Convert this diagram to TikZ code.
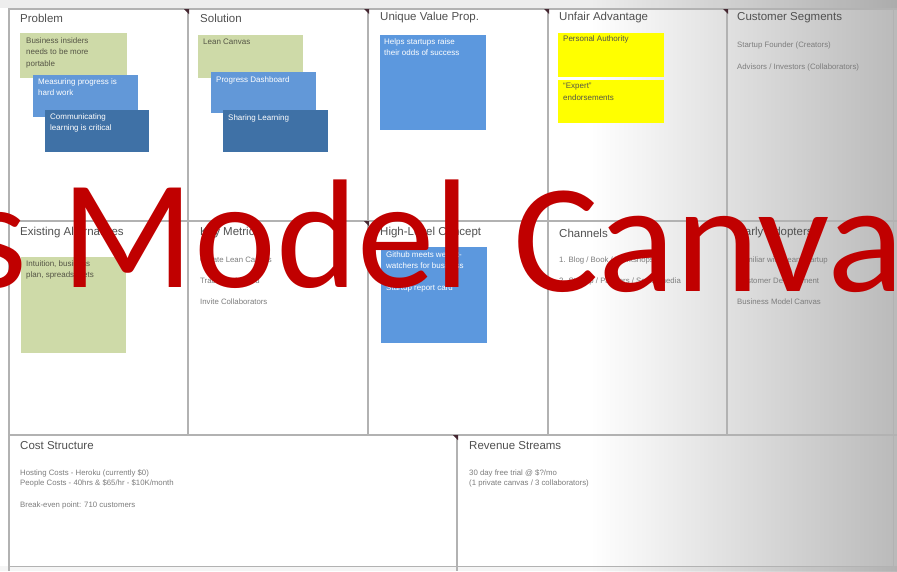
\documentclass[tikz,border=0pt]{standalone}
\usepackage{fontspec}
\setmainfont{Liberation Sans}
\newfontfamily\titlefont{Carlito}
\definecolor{gridc}{RGB}{178,178,178}
\definecolor{hdrc}{RGB}{80,80,80}
\definecolor{bodyc}{RGB}{125,125,125}
\definecolor{noteG}{RGB}{206,218,168}
\definecolor{noteB}{RGB}{98,152,216}
\definecolor{noteD}{RGB}{63,113,166}
\definecolor{noteU}{RGB}{92,152,222}
\definecolor{noteY}{RGB}{255,255,0}
\definecolor{titlered}{RGB}{192,0,0}
\definecolor{shadeR}{RGB}{186,186,186}
\definecolor{markc}{RGB}{70,40,50}
\definecolor{notetxt}{RGB}{85,85,70}
\tikzset{
  hdr/.style={anchor=west, inner sep=0pt, font=\fontsize{11.5}{13}\selectfont, text=hdrc},
  body/.style={anchor=west, inner sep=0pt, font=\fontsize{7.8}{9}\selectfont, text=bodyc},
  notebox/.style={anchor=north west, inner sep=0pt, draw=none},
  ntxt/.style={anchor=north west, inner sep=0pt, align=left, font=\fontsize{8}{11.5}\selectfont, text=notetxt},
  wtxt/.style={ntxt, text=white},
  gridline/.style={draw=gridc, line width=1.3pt},
  cornermark/.style={fill=markc},
  titletext/.style={anchor=base west, inner sep=0pt, text=titlered, font=\titlefont\fontsize{155}{160}\selectfont},
}
\begin{document}
\begin{tikzpicture}[x=1pt,y=-1pt]
\useasboundingbox (0,0) rectangle (897,571);
% background
\fill[white] (0,0) rectangle (897,571);
\shade[left color=white, right color=shadeR] (590,0) rectangle (897,571);
\fill[black, opacity=0.07] (0,0) rectangle (897,8);
\fill[black, opacity=0.04] (0,566) rectangle (897,571);

% grid
\draw[gridline] (9,571) -- (9,9) -- (897,9);
\draw[gridline] (188,9) -- (188,435);
\draw[gridline] (368,9) -- (368,435);
\draw[gridline] (548,9) -- (548,435);
\draw[gridline] (727,9) -- (727,435);
\draw[gridline] (9,221) -- (897,221);
\draw[gridline] (9,435) -- (897,435);
\draw[gridline] (457,435) -- (457,571);
\draw[draw=gridc, line width=0.6pt] (9,566) -- (893,566) -- (893,9);

% corner marks
\foreach \cx in {188,368,548,727}{
  \fill[cornermark] (\cx-4,9) -- (\cx+1,9) -- (\cx+1,14) -- cycle;
}
\foreach \cx in {368,727}{
  \fill[cornermark] (\cx-4,221) -- (\cx+1,221) -- (\cx+1,226) -- cycle;
}
\fill[cornermark] (453,435) -- (458,435) -- (458,440) -- cycle;

% headers
\node[hdr] (hProb) at (20,18) {Problem};
\node[hdr] (hSol) at (200,18) {Solution};
\node[hdr] (hUVP) at (380,18) {Unique Value Prop.};
\node[hdr] (hUnf) at (559,18) {Unfair Advantage};
\node[hdr] (hCS) at (737,18) {Customer Segments};
\node[hdr] (hEA) at (20,233) {Existing Alternatives};
\node[hdr] (hKM) at (200,233) {Key Metrics};
\node[hdr] (hHL) at (380,233) {High-Level Concept};
\node[hdr] (hCh) at (559,233) {Channels};
\node[hdr] (hEad) at (737,233) {Early Adopters};
\node[hdr] (hCost) at (20,446) {Cost Structure};
\node[hdr] (hRev) at (469,446) {Revenue Streams};

% body texts
\node[body] (cs1) at (737,45) {Startup Founder (Creators)};
\node[body] (cs2) at (737,67) {Advisors / Investors (Collaborators)};
\node[body] (km1) at (200,260) {Create Lean Canvas};
\node[body] (km2) at (200,281) {Track Dashboard};
\node[body] (km3) at (200,302) {Invite Collaborators};
\node[body] (ch1) at (559,260) {1. Blog / Book / Workshops};
\node[body] (ch2) at (559,281) {2. Startup / Partners / Social media};
\node[body] (ea1) at (737,260) {Familiar with Lean Startup};
\node[body] (ea2) at (737,281) {Customer Development};
\node[body] (ea3) at (737,302) {Business Model Canvas};
\node[body] (co1) at (20,473) {Hosting Costs - Heroku (currently \$0)};
\node[body] (co2) at (20,483.5) {People Costs - 40hrs \& \$65/hr - \$10K/month};
\node[body] (co3) at (20,505) {Break-even point: 710 customers};
\node[body] (rv1) at (469,473) {30 day free trial @ \$?/mo};
\node[body] (rv2) at (469,483.5) {(1 private canvas / 3 collaborators)};

% Problem notes
\node[notebox, fill=noteG, minimum width=107pt, minimum height=45pt] (pg) at (20,33) {};
\node[ntxt] (pgt) at ([xshift=6pt,yshift=-4pt]pg.north west) {Business insiders\\needs to be more\\portable};
\node[notebox, fill=noteB, minimum width=105pt, minimum height=42pt] (pb) at (33,75) {};
\node[wtxt] (pbt) at ([xshift=5pt,yshift=-3pt]pb.north west) {Measuring progress is\\hard work};
\node[notebox, fill=noteD, minimum width=104pt, minimum height=42pt] (pd) at (45,110) {};
\node[wtxt] (pdt) at ([xshift=5pt,yshift=-3pt]pd.north west) {Communicating\\learning is critical};

% Solution notes
\node[notebox, fill=noteG, minimum width=105pt, minimum height=43pt] (sg) at (198,35) {};
\node[ntxt] (sgt) at ([xshift=5pt,yshift=-4pt]sg.north west) {Lean Canvas};
\node[notebox, fill=noteB, minimum width=105pt, minimum height=41pt] (sb) at (211,72) {};
\node[wtxt] (sbt) at ([xshift=5pt,yshift=-4pt]sb.north west) {Progress Dashboard};
\node[notebox, fill=noteD, minimum width=105pt, minimum height=42pt] (sd) at (223,110) {};
\node[wtxt] (sdt) at ([xshift=5pt,yshift=-4pt]sd.north west) {Sharing Learning};

% UVP
\node[notebox, fill=noteU, minimum width=106pt, minimum height=95pt] (ub) at (380,35) {};
\node[wtxt] (ubt) at ([xshift=4pt,yshift=-3pt]ub.north west) {Helps startups raise\\their odds of success};

% Unfair advantage
\node[notebox, fill=noteY, minimum width=106pt, minimum height=44pt] (y1) at (558,33) {};
\node[ntxt] (y1t) at ([xshift=5pt,yshift=-3pt]y1.north west) {Personal Authority};
\node[notebox, fill=noteY, minimum width=106pt, minimum height=43pt] (y2) at (558,80) {};
\node[ntxt] (y2t) at ([xshift=5pt,yshift=-3pt]y2.north west) {``Expert''\\endorsements};

% Existing alternatives
\node[notebox, fill=noteG, minimum width=105pt, minimum height=96pt] (eg) at (21,257) {};
\node[ntxt] (egt) at ([xshift=5pt,yshift=-3pt]eg.north west) {Intuition, business\\plan, spreadsheets};

% High-level concept
\node[notebox, fill=noteU, minimum width=106pt, minimum height=96pt] (hb) at (381,247) {};
\node[wtxt] (hbt) at ([xshift=5pt,yshift=-4pt]hb.north west) {Github meets weight-\\watchers for business\\[10pt]Startup report card};

% overlay title
\node[titletext] (title1) at (-515,287) {Business Model};
\node[titletext, xscale=1.035] (title2) at (513,291) {Canvas};
\end{tikzpicture}
\end{document}
